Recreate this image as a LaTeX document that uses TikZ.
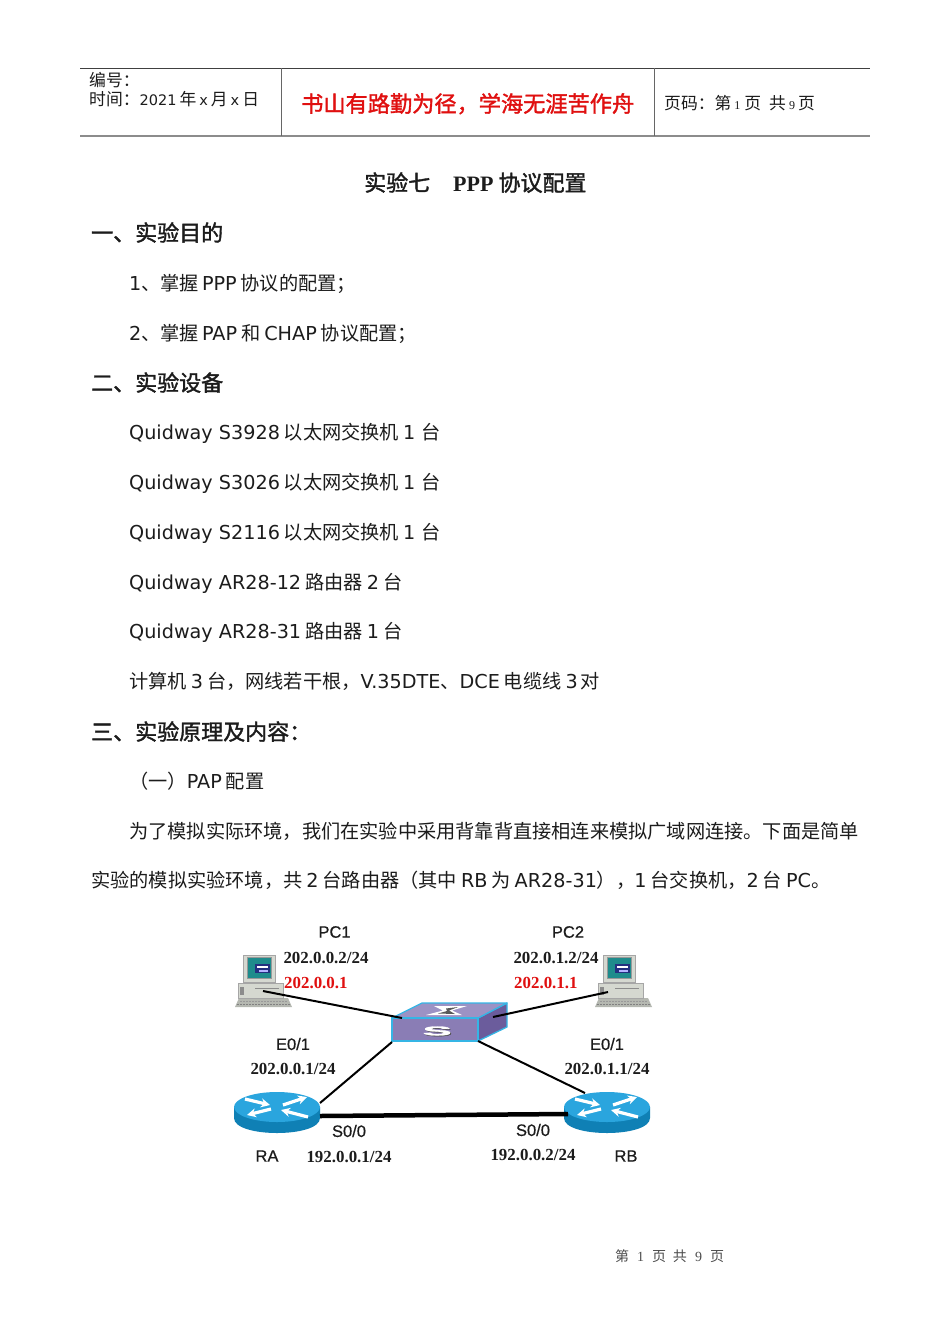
\documentclass[tikz,border=0pt]{standalone}
\usepackage{fontspec}
\usetikzlibrary{arrows.meta}
\setmainfont{DejaVu Sans}
\newfontfamily\cjk{Noto Sans CJK SC}
\newfontfamily\cjkb[FakeBold=1.6]{Noto Sans CJK SC}
\newfontfamily\arial[FakeBold=0.6]{Liberation Sans}
\newfontfamily\arialb[FakeBold=2]{Liberation Sans Bold}
\newfontfamily\tms{Liberation Serif}
\newcommand\C[1]{{\cjk #1}}
\newcommand\B[1]{{\cjkb #1}}
\newcommand\gp{\kern4pt\relax}
\newcommand\hc[1]{{\cjk\fontsize{16.8}{19}\selectfont #1}}
\newcommand\ft[1]{{\cjk\fontsize{14}{16}\selectfont #1}}
\definecolor{ink}{HTML}{1C1C1C}
\definecolor{hdrgrey}{HTML}{8C8C8C}
\definecolor{redtxt}{HTML}{E01010}
\definecolor{swfront}{HTML}{8A7DB5}
\definecolor{swtop}{HTML}{9C92C4}
\definecolor{swside}{HTML}{6B5C9C}
\definecolor{swedge}{HTML}{35B5E5}
\definecolor{rttop}{HTML}{2AA5DE}
\definecolor{rtside}{HTML}{0F80B5}
\definecolor{pcbody}{HTML}{D5D8D0}
\definecolor{pcscreen}{HTML}{1F8C8C}
\definecolor{pcwin}{HTML}{23307F}
\tikzset{
  txt/.style={anchor=base west,inner sep=0pt,text=ink,font=\fontsize{19.2}{23}\selectfont},
  head/.style={anchor=base west,inner sep=0pt,text=ink,font=\fontsize{22}{26}\selectfont},
  small/.style={anchor=base west,inner sep=0pt,text=ink,font=\fontsize{14.5}{17}\selectfont},
  lblsans/.style={anchor=center,inner sep=0pt,text=ink,font=\arial\fontsize{16.5}{20}\selectfont},
  lblip/.style={anchor=center,inner sep=0pt,text=ink,font=\tms\bfseries\fontsize{16.9}{20}\selectfont},
  lblred/.style={lblip,text=redtxt},
  wire/.style={draw=black,line width=2pt},
  trunk/.style={draw=black,line width=4.5pt},
  pcicon/.pic={
    \fill[pcbody!85!black] (-4,43) -- (45,43) -- (49,52) -- (-8,52) -- cycle;
    \draw[black!50,line width=1.2pt,dash pattern=on 2pt off 1pt] (-6,49.5) -- (47,49.5);
    \draw[black!40,line width=1pt,dash pattern=on 2pt off 1pt] (-3,46) -- (44,46);
    \fill[pcbody,draw=black!35,line width=.4pt] (-5,28) rectangle (40,43);
    \fill[black!35] (3,25) rectangle (24,29);
    \fill[pcbody,draw=black!35,line width=.5pt] (0,0) rectangle (32,27);
    \fill[black!40] (4,2) rectangle (29,24);
    \fill[pcscreen] (5,3) rectangle (28,23);
    \fill[pcwin] (12,9) rectangle (27,18);
    \fill[white] (14,11) rectangle (25,13);
    \fill[white!70!blue] (16,15) rectangle (25,16.5);
    \fill[black!45] (-3,32) rectangle (1,40);
    \draw[black!45,line width=.4pt] (12,33) -- (36,33);
  },
  routericon/.pic={
    \fill[rtside] (-43,0) -- (-43,11) .. controls (-43,31) and (43,31) .. (43,11) -- (43,0) -- cycle;
    \fill[rttop] (0,0) ellipse[x radius=43,y radius=15];
    \begin{scope}[white,line width=3.2pt,-{Stealth[length=9pt,width=9pt]}]
      \draw (-32,-8) -- (-7,-2);
      \draw (6,-2) -- (30,-10);
      \draw (-6,2) -- (-30,8);
      \draw (31,10) -- (4,3);
    \end{scope}
  }
}
\begin{document}
\begin{tikzpicture}[x=1pt,y=-1pt]
\useasboundingbox (0,0) rectangle (950,1344);
\fill[white] (0,0) rectangle (950,1344);
% page header
\coordinate (hdrTL) at (80,68);
\coordinate (hdrTR) at (870,68);
\coordinate (hdrBL) at (80,136);
\coordinate (hdrBR) at (870,136);
\draw[black!75,line width=.8pt] (hdrTL) -- (hdrTR);
\draw[hdrgrey,line width=1.4pt] (hdrBL) -- (hdrBR);
\draw[black!60,line width=.7pt] (281,68) -- (281,136);
\draw[black!60,line width=.7pt] (654,68) -- (654,136);
\node[small] (h1) at (89,86) {\hc{编号：}};
\node[small] (h2) at (89,105) {\hc{时间：}2021\kern3pt\hc{年}\kern3pt x\kern3pt\hc{月}\kern3pt x\kern3pt\hc{日}};
\node[anchor=base west,inner sep=0pt,text=redtxt] (motto) at (301,112) {\B{\fontsize{22.2}{26}\selectfont 书山有路勤为径，学海无涯苦作舟}};
\node[small] (h3) at (664,109) {\hc{页码：第}\kern3pt{\tms\fontsize{12}{14}\selectfont 1}\kern4pt\hc{页}\kern8pt\hc{共}\kern3pt{\tms\fontsize{12}{14}\selectfont 9}\kern3pt\hc{页}};
% title & body
\node[head] (title) at (364,191) {\B{实验七}\kern23pt{\tms\bfseries PPP}\kern5pt\B{协议配置}};
\node[head] (s1) at (91,241) {\B{一、实验目的}};
\node[txt] (l1) at (129,290) {1\C{、掌握}\kern3pt PPP\gp\C{协议的配置；}};
\node[txt] (l2) at (129,340) {2\C{、掌握}\kern3pt PAP\gp\C{和}\gp CHAP\gp\C{协议配置；}};
\node[head] (s2) at (91,391) {\B{二、实验设备}};
\node[txt] (l3) at (129,439) {Quidway S3928\gp\C{以太网交换机}\gp 1\kern6pt\C{台}};
\node[txt] (l4) at (129,489) {Quidway S3026\gp\C{以太网交换机}\gp 1\kern6pt\C{台}};
\node[txt] (l5) at (129,539) {Quidway S2116\gp\C{以太网交换机}\gp 1\kern6pt\C{台}};
\node[txt] (l6) at (129,589) {Quidway AR28-12\gp\C{路由器}\gp 2\gp\C{台}};
\node[txt] (l7) at (129,638) {Quidway AR28-31\gp\C{路由器}\gp 1\gp\C{台}};
\node[txt] (l8) at (129,688) {\C{计算机}\gp 3\gp\C{台，网线若干根，}V.35DTE\C{、}DCE\gp\C{电缆线}\gp 3\kern3pt\C{对}};
\node[head] (s3) at (91,740) {\B{三、实验原理及内容：}};
\node[txt] (l9) at (129,788) {\C{（一）}PAP\gp\C{配置}};
\node[txt] (l10) at (129,838) {\C{为了模拟实际环境，我们在实验中采用背靠背直接相连来模拟广域网连接。下面是简单}};
\node[txt] (l11) at (91,887) {\C{实验的模拟实验环境，共}\gp 2\gp\C{台路由器（其中}\gp RB\gp\C{为}\gp AR28-31\C{），}\kern-1pt 1\gp\C{台交换机，}2\gp\C{台}\gp PC\C{。}};
% devices
\pic at (243,955) {pcicon};
\pic at (603,955) {pcicon};
\pic at (277,1107) {routericon};
\pic at (607,1107) {routericon};
\coordinate (pc1) at (263,991);
\coordinate (pc2) at (608,992);
\coordinate (ra) at (320,1103);
\coordinate (raS) at (320,1116);
\coordinate (rb) at (585,1093);
\coordinate (rbS) at (568,1114);
% switch
\fill[swside,draw=swedge,line width=1.3pt,line join=round] (478,1018) -- (507,1003) -- (507,1027) -- (478,1041) -- cycle;
\fill[swtop,draw=swedge,line width=1.3pt,line join=round] (392,1018) -- (422,1003) -- (507,1003) -- (478,1018) -- cycle;
\node[draw=swedge,fill=swfront,line width=1.3pt,minimum width=86pt,minimum height=23pt,inner sep=0pt] (sw) at (435,1029.5) {};
\fill[white] (434,1006) -- (467,1006) -- (452,1010.5) -- (462,1015) -- (426,1015) -- (443,1010.5) -- cycle;
\fill[black!65] (446,1008.5) -- (458,1007) -- (449,1010.5) -- (455,1014) -- (438,1013.5) -- (447,1011) -- cycle;
\node[inner sep=0pt,text=black!70,xscale=2.9,yscale=.85,font=\arialb\fontsize{15}{17}\selectfont] (sShade) at (438,1031.7) {S};
\node[inner sep=0pt,text=white,xscale=2.9,yscale=.85,font=\arialb\fontsize{15}{17}\selectfont] (sMark) at (437.2,1031) {S};
\coordinate (swPc1) at (402,1018);
\coordinate (swPc2) at (493,1017);
\coordinate (swRa) at (392,1042);
\coordinate (swRb) at (478,1041);
% connectors
\draw[wire] (pc1) -- (swPc1);
\draw[wire] (pc2) -- (swPc2);
\draw[wire] (swRa) -- (ra);
\draw[wire] (swRb) -- (rb);
\draw[trunk] (raS) -- (rbS);
% labels
\node[lblsans] (nPC1) at (334.5,932) {PC1};
\node[lblsans] (nPC2) at (568,932) {PC2};
\node[lblip] (ip1) at (326,958) {202.0.0.2/24};
\node[lblip] (ip2) at (556,958) {202.0.1.2/24};
\node[lblred,anchor=west] (gw1) at (284,983) {202.0.0.1};
\node[lblred,anchor=west] (gw2) at (514,983) {202.0.1.1};
\node[lblsans] (e1) at (293,1044) {E0/1};
\node[lblsans] (e2) at (607,1044) {E0/1};
\node[lblip] (ipe1) at (293,1069) {202.0.0.1/24};
\node[lblip] (ipe2) at (607,1069) {202.0.1.1/24};
\node[lblsans] (s01) at (349,1131) {S0/0};
\node[lblsans] (s02) at (533,1130) {S0/0};
\node[lblsans] (nRA) at (267,1156) {RA};
\node[lblsans] (nRB) at (626,1156) {RB};
\node[lblip] (ips1) at (349,1157) {192.0.0.1/24};
\node[lblip] (ips2) at (533,1155) {192.0.0.2/24};
% footer
\node[anchor=center,inner sep=0pt,text=black!70] (foot) at (669.5,1256) {\ft{第}\kern8pt{\tms\fontsize{14}{16}\selectfont 1}\kern8pt\ft{页}\kern7pt\ft{共}\kern8pt{\tms\fontsize{14}{16}\selectfont 9}\kern8pt\ft{页}};
\end{tikzpicture}
\end{document}
